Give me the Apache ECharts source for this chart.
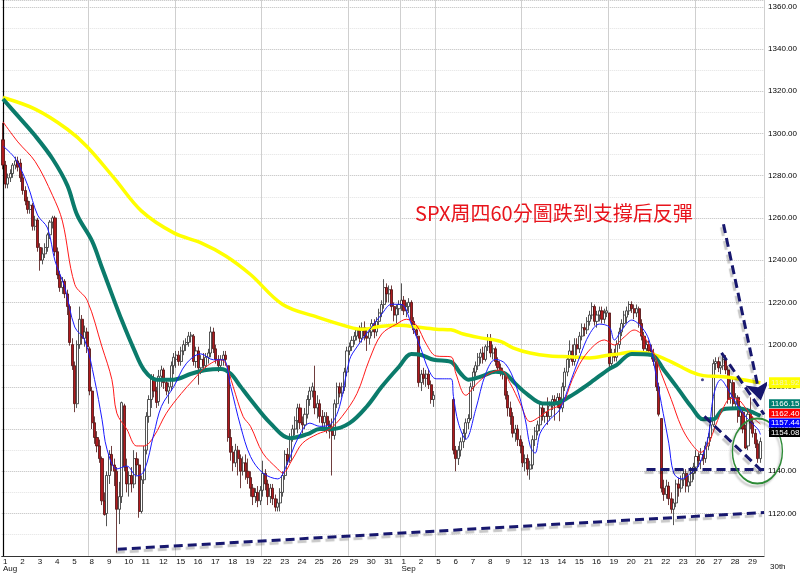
<!DOCTYPE html>
<html><head><meta charset="utf-8">
<script src="https://cdn.jsdelivr.net/npm/echarts@6/dist/echarts.min.js"></script>
<style>html,body{margin:0;padding:0;background:#fff}#c{width:800px;height:573px}</style>
</head><body><div id="c"></div>
<script>
// ---- axis categories (trading days, 7 hourly bars per day) ----
const augDays = ['1','2','3','4','5','8','9','10','11','12','15','16','17','18','19','22','23','24','25','26','29','30','31'];
const sepDays = ['1','2','5','6','7','8','9','12','13','14','15','16','19','20','21','22','23','26','27','28','29'];
const gridDayIdx = [5,10,15,20,23,25,30,35,40];
const yTicks = {min:1100, max:1363.2, step:20};

// ---- hourly candles [open, close, low, high] ----
const augBars = [
 [[1297,1285,1283,1305],[1285,1276,1274,1287],[1276,1279,1274,1281],[1279,1281,1277,1283],[1281,1285,1279,1286],[1285,1287,1283,1289],[1287,1284,1282,1289]],
 [[1286,1279,1277,1288],[1279,1273,1271,1281],[1273,1268,1266,1275],[1268,1264,1262,1270],[1264,1266,1262,1268],[1266,1256,1254,1267],[1256,1259,1254,1261]],
 [[1259,1246,1244,1260],[1246,1240,1235,1248],[1240,1243,1238,1246],[1243,1246,1241,1248],[1246,1252,1244,1253],[1252,1258,1250,1259],[1258,1260,1255,1261]],
 [[1260,1244,1242,1261],[1244,1233,1231,1246],[1233,1227,1225,1235],[1227,1230,1224,1232],[1230,1224,1222,1231],[1224,1218,1214,1226],[1218,1201,1199.5,1219]],
 [[1200,1190,1188,1203],[1190,1172,1168,1192],[1172,1200,1170,1202],[1200,1212,1198,1218],[1212,1203,1200,1214],[1203,1206,1199,1209],[1206,1199,1196,1208]],
 [[1198,1178,1176,1199],[1178,1163,1160,1180],[1163,1156,1153,1166],[1156,1152,1149,1159],[1152,1146,1144,1155],[1146,1126,1124,1147],[1126,1119.5,1119,1130]],
 [[1120,1138,1114,1140],[1138,1148,1134,1150],[1148,1143,1140,1152],[1143,1140,1133,1146],[1140,1122,1101.5,1142],[1122,1128,1115,1135],[1128,1172.5,1125,1173]],
 [[1171,1142,1140,1172],[1142,1134,1130,1146],[1134,1138,1128,1140],[1138,1134,1130,1142],[1134,1146,1132,1150],[1146,1143,1138,1149],[1143,1121,1118,1146]],
 [[1121,1136,1120,1138],[1136,1150,1134,1152],[1150,1166,1148,1168],[1166,1174,1163,1176],[1174,1184,1170,1186],[1184,1178,1175,1186],[1178,1172.6,1170,1180]],
 [[1173,1185,1171,1188],[1185,1188,1180,1190],[1188,1182,1179,1189],[1182,1178,1176,1184],[1178,1180,1172,1182],[1180,1190,1178,1192],[1190,1194,1186,1196]],
 [[1193,1195,1189,1197],[1195,1192,1190,1197],[1192,1197,1190,1199],[1197,1200,1195,1202],[1200,1201,1197,1203],[1201,1204,1199,1206],[1204,1204.5,1201,1206]],
 [[1204,1192,1190,1205],[1192,1197,1189,1199],[1197,1189,1181,1199],[1189,1193,1186,1195],[1193,1190,1187,1196],[1190,1194,1188,1196],[1194,1196,1191,1198]],
 [[1196,1206,1194,1208.5],[1206,1198,1196,1208],[1198,1193,1191,1200],[1193,1190,1187,1195],[1190,1193,1188,1195],[1193,1195,1190,1197],[1195,1193,1190,1197]],
 [[1190,1156,1154,1190],[1156,1149,1145,1160],[1149,1144,1140,1152],[1144,1150,1142,1153],[1150,1146,1138,1152],[1146,1140,1132,1148],[1140,1144,1138,1147]],
 [[1144,1140,1136,1148],[1140,1137,1134,1146],[1137,1132,1128,1140],[1132,1128,1124,1134],[1128,1130,1125,1132],[1130,1126,1123,1133],[1126,1131,1124,1133]],
 [[1131,1139,1128,1145],[1139,1134,1131,1141],[1134,1128,1124,1136],[1128,1132,1125,1134],[1132,1127,1124,1134],[1127,1123,1121,1129],[1123,1125,1121,1127]],
 [[1125,1130,1121,1132],[1130,1138,1128,1140],[1138,1148,1136,1150],[1148,1145,1143,1151],[1145,1156,1144,1158],[1156,1160,1154,1162],[1160,1164,1157,1166]],
 [[1164,1170,1158,1172],[1170,1163,1160,1172],[1163,1162,1158,1166],[1162,1167,1160,1170],[1167,1174,1165,1176],[1174,1178,1171,1180],[1178,1180,1175,1182]],
 [[1178,1170,1167,1190],[1170,1172,1165,1176],[1172,1166,1163,1174],[1166,1163,1160,1169],[1163,1166,1161,1168],[1166,1162,1158,1168],[1162,1159,1155.5,1164]],
 [[1159,1157,1138,1165],[1157,1172,1155,1174],[1172,1180,1170,1182],[1180,1177,1175,1182],[1177,1180,1175,1182],[1180,1187,1178,1189],[1187,1197,1185,1199]],
 [[1197,1199,1195,1201],[1199,1202,1197,1204],[1202,1204,1200,1206],[1204,1207,1202,1208],[1207,1203,1201,1209],[1203,1208,1201,1210.5],[1208,1204,1202,1211]],
 [[1204,1203,1197,1208],[1203,1206,1200,1208],[1206,1210,1204,1212],[1210,1206,1203,1212],[1206,1211,1204,1213],[1211,1215,1209,1217],[1215,1219,1213,1221]],
 [[1219,1227,1217,1231],[1227,1224,1220,1229],[1224,1226,1220,1228],[1226,1218,1216,1228],[1218,1214,1211,1220],[1214,1217,1210,1219],[1217,1219,1214,1221]]
];
const sepBars = [
 [[1219,1221,1216,1229],[1221,1216,1214,1223],[1216,1218,1213,1220],[1218,1220,1215,1222],[1220,1211,1209,1221],[1211,1207,1205,1213],[1207,1204.5,1203.8,1209]],
 [[1204,1182,1180,1204],[1182,1186,1178,1188],[1186,1184,1181,1189],[1184,1186,1180,1188],[1186,1181,1179,1188],[1181,1174,1172,1183],[1174,1176,1170.5,1178]],
 null,
 [[1174,1150,1148,1175],[1150,1146,1140,1152],[1146,1150,1143,1152],[1150,1154,1147,1156],[1154,1158,1151,1160],[1158,1163,1155,1165],[1163,1165,1160,1167]],
 [[1165,1180,1164,1182],[1180,1187,1178,1189],[1187,1190,1185,1192],[1190,1194,1188,1196],[1194,1196,1191,1198],[1196,1193,1191,1199],[1193,1199,1192,1200]],
 [[1199,1203,1197,1205],[1203,1196,1194,1205],[1196,1198,1193,1200],[1198,1192,1190,1199],[1192,1189,1187,1194],[1189,1187,1185,1191],[1187,1186,1183.5,1189]],
 [[1186,1176,1174,1187],[1176,1170,1166,1178],[1170,1166,1162,1173],[1166,1158,1156,1168],[1158,1160,1154,1162],[1160,1155,1152,1162],[1155,1152,1148.5,1157]],
 [[1152,1144,1142,1154],[1144,1146,1140,1148],[1146,1141,1138,1148],[1141,1143,1136,1145],[1143,1155,1141,1157],[1155,1159,1152,1161],[1159,1162,1157,1164]],
 [[1162,1170,1159,1172],[1170,1166,1164,1172],[1166,1168,1163,1170],[1168,1166,1162,1175],[1166,1171,1164,1173],[1171,1174,1169,1176],[1174,1172,1164,1176]],
 [[1172,1175,1170,1177],[1175,1170,1163.7,1177],[1170,1180,1168,1182],[1180,1187,1178,1189],[1187,1193,1185,1195],[1193,1197,1189,1202],[1197,1192,1190,1200]],
 [[1192,1200,1190,1203],[1200,1198,1195,1203],[1198,1204,1196,1206],[1204,1208,1202,1210],[1208,1207,1204,1210],[1207,1211,1205,1213],[1211,1214,1209,1216]],
 [[1214,1218,1212,1220],[1218,1211,1209,1219],[1211,1214,1208,1216],[1214,1216,1211,1218],[1216,1212,1210,1218],[1212,1215,1210,1217],[1215,1216,1213,1218]],
 [[1215,1191,1188.5,1215],[1191,1196,1189,1198],[1196,1194,1192,1198],[1194,1200,1192,1202],[1200,1206,1198,1208],[1206,1210,1204,1212],[1210,1214,1208,1216]],
 [[1213,1216,1210,1218],[1216,1219,1214,1220.5],[1219,1217,1215,1220.5],[1217,1215,1212,1219],[1215,1217,1213,1219],[1217,1210,1208,1218],[1210,1204,1202,1212]],
 [[1204,1198,1196,1206],[1198,1200,1195,1202],[1200,1197,1195,1202],[1197,1196,1193,1200],[1196,1192,1190,1198],[1192,1180,1178,1194],[1180,1167,1166,1182]],
 [[1165,1132,1130,1165],[1132,1129,1126,1136],[1129,1133,1127,1136],[1133,1127,1124,1135],[1127,1122,1120,1130],[1122,1125,1114.5,1127],[1125,1134,1123,1136]],
 [[1134,1132,1128,1137],[1132,1136,1130,1138],[1136,1139,1133,1141],[1139,1133,1130,1141],[1133,1135,1130,1138],[1135,1139,1133,1142],[1139,1142,1136,1144]],
 [[1142,1147,1139,1150],[1147,1145,1142,1149],[1145,1148,1141,1151],[1148,1146,1143,1150],[1146,1152,1144,1154],[1152,1156,1150,1158],[1156,1162,1154,1164]],
 [[1162,1191,1161,1193],[1191,1192,1188,1194],[1192,1189,1187,1194],[1189,1190,1186,1192],[1190,1193,1188,1195.5],[1193,1188,1186,1195],[1188,1174,1172,1190]],
 [[1175,1182,1172,1184.7],[1182,1172,1170,1184],[1172,1175,1170,1177],[1175,1166,1163,1176],[1166,1168,1160,1171],[1168,1160,1158,1170],[1160,1151,1150.5,1162]],
 [[1152,1167,1150,1170],[1167,1163,1160,1175],[1163,1158,1156,1166],[1158,1153,1151,1160],[1153,1146,1144,1155],[1146,1154.08,1144,1156]]
];

// ---- moving averages: [barIndex, value] ----
const maYellow = [[0,1317],[13,1311.5],[26,1302],[34,1293.7],[45,1278.7],[56,1263.2],[69,1252.9],[80,1248.2],[90,1242],[100,1233.2],[113,1219],[127,1213],[140,1208.3],[145,1207.3],[153,1208.7],[160,1209.2],[167,1208.3],[175,1207.3],[181,1207],[186,1205],[193,1203.2],[201,1201.5],[206,1198.5],[213,1196],[221,1194.6],[229,1194.2],[237,1193.7],[245,1195.1],[249,1195.6],[254,1196.5],[262,1195.6],[270,1191.8],[278,1187.1],[283,1185.3],[291,1184.8],[299,1183.4],[306,1181.92]];
const maTeal = [[0,1316.3],[6,1308.3],[13,1298.9],[20,1288],[26,1275.4],[30,1261.3],[36,1249],[40,1236.4],[44,1223.8],[48,1211.5],[53,1197.5],[57,1188],[62,1183.4],[69,1183.4],[76,1186.2],[82,1188],[88,1188.5],[92,1186.2],[96,1180.1],[100,1174],[108,1162.8],[116,1155.7],[123,1157.6],[128,1160],[133,1160],[140,1162.8],[147,1170.7],[153,1180],[160,1189.5],[165,1195.6],[169,1195.1],[174,1192.8],[181,1191.8],[185,1186.2],[188,1183.4],[193,1184.8],[199,1187.1],[203,1186.2],[207,1181.5],[212,1176.3],[218,1172.1],[223,1172.1],[229,1175.4],[234,1179.2],[239,1183.4],[245,1188.5],[248,1190.4],[254,1195.6],[262,1195.1],[267,1188],[273,1178.7],[278,1170.7],[283,1164.6],[287,1164.6],[291,1169.3],[297,1169.8],[302,1168.4],[306,1166.15]];
const maRed = [[0,1305.5],[6,1296],[13,1286.7],[20,1270.7],[24,1258.5],[29,1228.5],[34,1221],[40,1198.9],[44,1183.4],[46,1167.5],[50,1160],[54,1152],[57,1152],[61,1156.6],[66,1167.5],[72,1176.8],[77,1183.4],[82,1189.5],[88,1192.8],[90,1190.9],[93,1180.1],[97,1166],[100,1161.3],[105,1148.6],[111,1141.1],[113,1139.2],[117,1145.8],[121,1153.3],[127,1157.6],[132,1160],[137,1166],[143,1176.8],[148,1192.8],[153,1205],[159,1209.7],[163,1212],[167,1209.2],[171,1200.3],[175,1194.6],[181,1194.2],[183,1186.2],[187,1176],[191,1181],[196,1186],[201,1188],[205,1181.5],[209,1172],[213,1163.5],[217,1166],[221,1169.3],[226,1172.1],[230,1183.4],[234,1192.8],[239,1199.8],[243,1202.2],[247,1199.8],[251,1203.6],[255,1206.9],[259,1203.6],[263,1195.6],[266,1186.2],[270,1174],[274,1161.3],[278,1153.3],[282,1149],[285,1153],[288,1162],[291,1170],[294,1174.5],[297,1174],[300,1170],[303,1165.5],[306,1162.4]];
const maBlue = [[0,1294],[5,1288],[10,1275.4],[14,1261.3],[18,1255.2],[21,1239.7],[25,1227],[29,1208.3],[33,1202.2],[37,1183.4],[40,1164.6],[42,1150.5],[46,1141.1],[50,1142.5],[54,1137.8],[57,1140],[61,1158],[64,1170.7],[69,1180.1],[74,1190.9],[80,1195.6],[85,1192.8],[89,1192.8],[92,1180.1],[96,1161.3],[100,1147],[105,1139.2],[111,1136.4],[115,1144],[119,1155.2],[124,1162.8],[128,1161.3],[132,1162],[136,1170.7],[140,1192.8],[143,1198.9],[148,1206.9],[153,1214.4],[157,1219.1],[161,1219],[165,1209.7],[169,1197.5],[172,1188],[175,1183.8],[181,1183.8],[182,1175.4],[184,1162.8],[187,1155.2],[191,1169.3],[195,1186.2],[199,1193],[203,1190.9],[207,1181.5],[211,1164.6],[213,1151.9],[215,1148.6],[217,1158],[221,1164.6],[225,1169.3],[229,1181.5],[233,1194.2],[237,1205],[241,1209.7],[245,1208.3],[247,1202.2],[250,1206.9],[254,1211.6],[258,1208.3],[261,1202.2],[263,1190.9],[266,1172.1],[269,1153.3],[271,1139.2],[274,1136.4],[278,1139.2],[281,1142.5],[285,1156.6],[287,1175.4],[290,1183.4],[293,1178.7],[297,1170.7],[301,1164.6],[305,1160],[306,1157.44]];
const lastClose = 1154.08;

// ---- hand-drawn annotations, [barIndex, price] ----
const supportLine = [[46.4,1103.1],[307.5,1120.5]];
const flatSupport = [[260,1141],[307.5,1141]];
const channelTop = [[290.3,1196.1],[307.5,1166.9]];
const channelBottom = [[283.4,1166],[307.5,1139.2]];
const arrowLine = [[291.1,1257],[306.2,1173.5]];
const circleCenter = [304.8,1149.6];
const markDot = [[282.6,1183.4]];
const noteText = 'SPX周四60分圖跌到支撐后反彈';

// ---- build ----
const allDays = augDays.map(d=>({m:'Aug',d})).concat(sepDays.map(d=>({m:'Sep',d})));
const allBars = augBars.concat(sepBars);
const categories = [], candleData = [];
allDays.forEach((day,di)=>{
  for(let b=0;b<7;b++){
    categories.push(day.m+' '+day.d+' #'+b);
    const dayBars = allBars[di];
    const bar = dayBars ? dayBars[b] : null;
    candleData.push(bar ? bar : ['-','-','-','-']);
  }
});
const gridIdx = new Set(gridDayIdx.map(d=>d*7));

const chart = echarts.init(document.getElementById('c'), null, {renderer:'canvas'});
const navy = '#17176e';
const dashStyle = {color:navy, width:3, type:[9,5], shadowColor:'rgba(0,0,0,0.22)', shadowOffsetX:-2, shadowOffsetY:3, shadowBlur:1, opacity:1};
function maSeries(data,color,width,z){
  return {type:'line', xAxisIndex:1, yAxisIndex:0, data, showSymbol:false, smooth:0.35, z,
    lineStyle:{color, width}, silent:true};
}
const option = {
  animation:false,
  backgroundColor:'#fff',
  grid:{left:0, right:32, top:0, bottom:12},
  xAxis:[{
    type:'category', data:categories, boundaryGap:true,
    axisLine:{show:true, lineStyle:{color:'#333', width:1}},
    axisTick:{show:false},
    axisLabel:{interval:(i)=>i%7===0, align:'left', fontSize:8, margin:2, lineHeight:7.5, color:'#111',
      fontFamily:'Liberation Sans, Arial, sans-serif',
      formatter:(v,i)=>{const di=Math.floor(i/7); const day=allDays[di]; return day.d==='1' ? day.d+'\n'+day.m : day.d;}},
    splitLine:{show:true, interval:(i)=>gridIdx.has(i), lineStyle:{color:'#cfcfcf', width:1}}
  },{
    type:'value', min:-0.5, max:307.5, show:false
  }],
  yAxis:[{
    type:'value', position:'right', min:yTicks.min, max:yTicks.max, interval:yTicks.step,
    axisLine:{show:true, lineStyle:{color:'#000', width:1.2}},
    axisTick:{show:false},
    axisLabel:{showMinLabel:false, showMaxLabel:false, fontSize:8, margin:4, color:'#000',
      fontFamily:'Liberation Sans, Arial, sans-serif', formatter:(v)=>v.toFixed(2)},
    splitLine:{show:true, lineStyle:{color:'#bdbdbd', type:'dotted', width:1}},
    minorTick:{show:false, splitNumber:2},
    minorSplitLine:{show:true, lineStyle:{color:'#e2e2e2', type:'dotted', width:1}}
  }],
  series:[
    {type:'candlestick', xAxisIndex:0, yAxisIndex:0, data:candleData, barWidth:2.6, z:2,
      itemStyle:{color:'#ffffff', color0:'#b01a1e', borderColor:'#2a2a2a', borderColor0:'#4a0c0c', borderWidth:0.8}},
    maSeries(maYellow,'#ffff00',3.5,3),
    maSeries(maTeal,'#0b7b6b',4,4),
    maSeries(maRed,'#ff1a1a',1,5),
    maSeries(maBlue,'#1a1aff',1,5),
    {type:'lines', coordinateSystem:'cartesian2d', xAxisIndex:1, yAxisIndex:0, z:8, silent:true,
      symbol:['none','none'], lineStyle:dashStyle,
      data:[{coords:supportLine},{coords:flatSupport},{coords:channelTop},{coords:channelBottom}]},
    {type:'lines', coordinateSystem:'cartesian2d', xAxisIndex:1, yAxisIndex:0, z:8, silent:true,
      symbol:['none','arrow'], symbolSize:18, lineStyle:dashStyle,
      data:[{coords:arrowLine}]},
    {type:'scatter', xAxisIndex:1, yAxisIndex:0, data:markDot, symbolSize:3, z:8, silent:true,
      itemStyle:{color:navy}}
  ]
};
chart.setOption(option);

// ---- right-side value tags and drawn annotations ----
const dotSeries = 7;
const px = (v)=>chart.convertToPixel({yAxisIndex:0}, v);
const tags = [
  {v:lastClose, bg:'#000000', fg:'#ffffff'},
  {v:maBlue[maBlue.length-1][1], bg:'#0000ff', fg:'#ffffff'},
  {v:maRed[maRed.length-1][1], bg:'#ff0000', fg:'#ffffff'},
  {v:maTeal[maTeal.length-1][1], bg:'#007f70', fg:'#ffffff'}
];
const graphics = [];
let prevY = null;
tags.forEach((t,k)=>{
  let y = px(t.v) - 9;
  if(prevY!==null) y = Math.min(y, prevY - 9.6);
  prevY = y;
  graphics.push({type:'text', z:100, x:769, y:y, style:{text:t.v.toFixed(2), fill:t.fg, backgroundColor:t.bg,
    padding:[1,3,0,2], font:'8px Liberation Sans, Arial, sans-serif', verticalAlign:'middle', align:'left'}});
});
const yv = maYellow[maYellow.length-1][1];
graphics.push({type:'text', z:100, x:769, y:px(yv), style:{text:yv.toFixed(2), fill:'#f4f4c0', backgroundColor:'#ffff00',
  padding:[2,3,1,2], font:'8px Liberation Sans, Arial, sans-serif', verticalAlign:'middle', align:'left'}});
const c = chart.convertToPixel({seriesIndex:dotSeries}, circleCenter);
graphics.push({type:'circle', z:90, x:c[0], y:c[1], scaleY:1.3, shape:{cx:0, cy:0, r:25},
  style:{fill:'none', stroke:'#2d8a36', lineWidth:1.4, shadowColor:'rgba(0,0,0,0.25)', shadowOffsetX:-2, shadowOffsetY:3, shadowBlur:2}});
graphics.push({type:'text', z:100, x:415, y:213, style:{text:noteText, fill:'#e8141c',
  font:'20px "Noto Sans CJK TC", "Noto Sans CJK SC", sans-serif', verticalAlign:'middle', align:'left'}});
graphics.push({type:'text', z:100, x:770, y:563, style:{text:'30th', fill:'#111',
  font:'8px Liberation Sans, Arial, sans-serif', verticalAlign:'top', align:'left'}});
chart.setOption({graphic:graphics});
</script>
</body></html>
